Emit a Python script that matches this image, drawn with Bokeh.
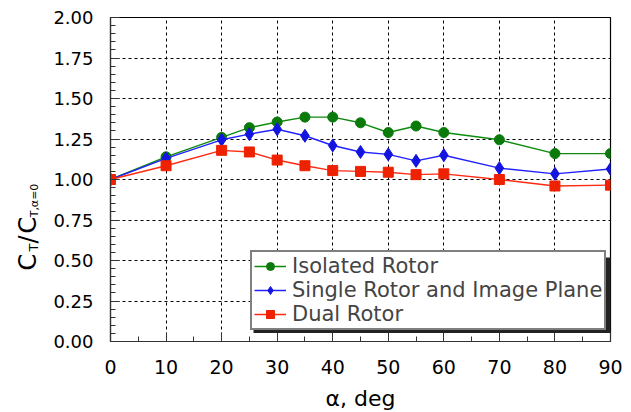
import math
from bokeh.plotting import figure
from bokeh.layouts import row
from bokeh.models import FixedTicker, Range1d, Legend, BoxAnnotation
from bokeh.core.properties import value
from bokeh.embed import file_html
from bokeh.resources import INLINE

alpha = [0, 10, 20, 25, 30, 35, 40, 45, 50, 55, 60, 70, 80, 90]
isolated = [1.00, 1.14, 1.26, 1.32, 1.355, 1.385, 1.385, 1.35, 1.29, 1.33, 1.29, 1.245, 1.16, 1.16]
single_image = [1.00, 1.13, 1.245, 1.28, 1.31, 1.27, 1.21, 1.17, 1.155, 1.115, 1.15, 1.07, 1.035, 1.065]
dual = [1.00, 1.085, 1.18, 1.17, 1.12, 1.085, 1.055, 1.05, 1.045, 1.03, 1.035, 1.00, 0.96, 0.965]

series_names = ["Isolated Rotor", "Single Rotor and Image Plane", "Dual Rotor"]
x_ticks = [0, 10, 20, 30, 40, 50, 60, 70, 80, 90]
x_minor = [5 * i for i in range(19)]
y_ticks = [0.0, 0.25, 0.5, 0.75, 1.0, 1.25, 1.5, 1.75, 2.0]
y_tick_labels = ["0.00", "0.25", "0.50", "0.75", "1.00", "1.25", "1.50", "1.75", "2.00"]
y_minor = [round(0.05 * i, 2) for i in range(41)]
y_label_parts = ["C", "T", "/", "C", "T,α=0"]

FONT = "DejaVu Sans"
LAB_W = 50
TOTAL_H = 17 + 324 + 66

p = figure(frame_width=500, frame_height=324, min_border_left=110 - LAB_W, min_border_right=15,
           min_border_top=17, min_border_bottom=66, output_backend="svg",
           toolbar_location=None, x_range=Range1d(0, 90), y_range=Range1d(0, 2))
p.background_fill_color = "white"
p.border_fill_color = "white"
p.outline_line_color = "black"
p.outline_line_width = 1.2

p.xaxis.ticker = FixedTicker(ticks=x_ticks, minor_ticks=x_minor)
p.yaxis.ticker = FixedTicker(ticks=y_ticks, minor_ticks=y_minor)
p.yaxis.major_label_overrides = {t: l for t, l in zip(y_ticks, y_tick_labels)}
for ax in (p.xaxis[0], p.yaxis[0]):
    ax.major_tick_in = 9
    ax.major_tick_out = 0
    ax.minor_tick_in = 5
    ax.minor_tick_out = 0
    ax.axis_line_color = "#333333"
    ax.axis_line_width = 1.2
    ax.major_tick_line_color = "#333333"
    ax.minor_tick_line_color = "#333333"
    ax.major_label_text_font = FONT
    ax.major_label_text_font_size = "19px"
    ax.major_label_text_color = "black"
p.yaxis.major_label_text_font_size = "18px"
p.yaxis.major_label_standoff = 17
p.xaxis.major_label_standoff = 18
p.xaxis.axis_label = "α, deg"
p.xaxis.axis_label_text_font = FONT
p.xaxis.axis_label_text_font_size = "22px"
p.xaxis.axis_label_text_font_style = "normal"
p.xaxis.axis_label_text_color = "black"
p.xaxis.axis_label_standoff = 9

for g in (p.xgrid[0], p.ygrid[0]):
    g.grid_line_color = "black"
    g.grid_line_dash = "3 3"
    g.grid_line_width = 1

# legend drop shadow (decorative), expressed via frame pixel offsets
px_per_deg = 500 / 90.0
px_per_unit = 324 / 2.0
LEG_X, LEG_Y, LEG_W, LEG_H = 140, 11, 358, 76
shadow = BoxAnnotation(left=(LEG_X + 3) / px_per_deg, right=(LEG_X + LEG_W + 2.5) / px_per_deg,
                       bottom=(LEG_Y - 2.5) / px_per_unit, top=(LEG_Y + LEG_H - 3) / px_per_unit,
                       fill_color="#222222", fill_alpha=1.0, line_alpha=0)
p.add_layout(shadow)

styles = [
    ("#0e8a0e", "#0a7a0a", "circle", 10, isolated),
    ("#2222ff", "#1414e0", "diamond", 13, single_image),
    ("#ff2a10", "#ee2200", "square", 10, dual),
]
items = []
for name, (lc, mc, mk, sz, ys) in zip(series_names, styles):
    r1 = p.line(alpha, ys, line_color=lc, line_width=1.4)
    r2 = p.scatter(alpha, ys, marker=mk, size=sz, fill_color=mc, line_color=mc)
    items.append((name, [r1, r2]))

legend = Legend(items=items, location=(LEG_X, LEG_Y), border_line_color="black",
                border_line_width=2, background_fill_color="white", background_fill_alpha=1,
                label_text_font=FONT, label_text_font_size="21px", padding=2, spacing=-4,
                glyph_width=32, label_standoff=6, margin=0, label_height=20, glyph_height=20)
p.add_layout(legend, "center")

# narrow side figure holding the composed y-axis title C_T / C_{T,alpha=0}
lab = figure(title=None, frame_width=LAB_W, frame_height=TOTAL_H, min_border=0,
             output_backend="svg", toolbar_location=None,
             x_range=Range1d(0, LAB_W), y_range=Range1d(TOTAL_H, 0))
lab.axis.visible = False
lab.grid.visible = False
lab.outline_line_color = None
lab.background_fill_color = "white"
lab.border_fill_color = "white"

# (page y of the piece centre, page x of the piece centre, font size)
SHIFT = -9
layout_parts = [(253.5, 27.5, "24px"), (239, 33, "13px"), (231, 27.5, "24px"),
                (216.5, 27.5, "24px"), (192, 33.5, "11px")]
for txt, (py, cx, fs) in zip(y_label_parts, layout_parts):
    lab.text(x=[cx], y=[py + SHIFT], text=[txt], angle=math.pi / 2,
             text_font=value(FONT), text_font_size=value(fs),
             text_align="center", text_baseline="middle", text_color="black")

layout = row(lab, p, spacing=0)
open("out.html", "w").write(file_html(layout, INLINE))
